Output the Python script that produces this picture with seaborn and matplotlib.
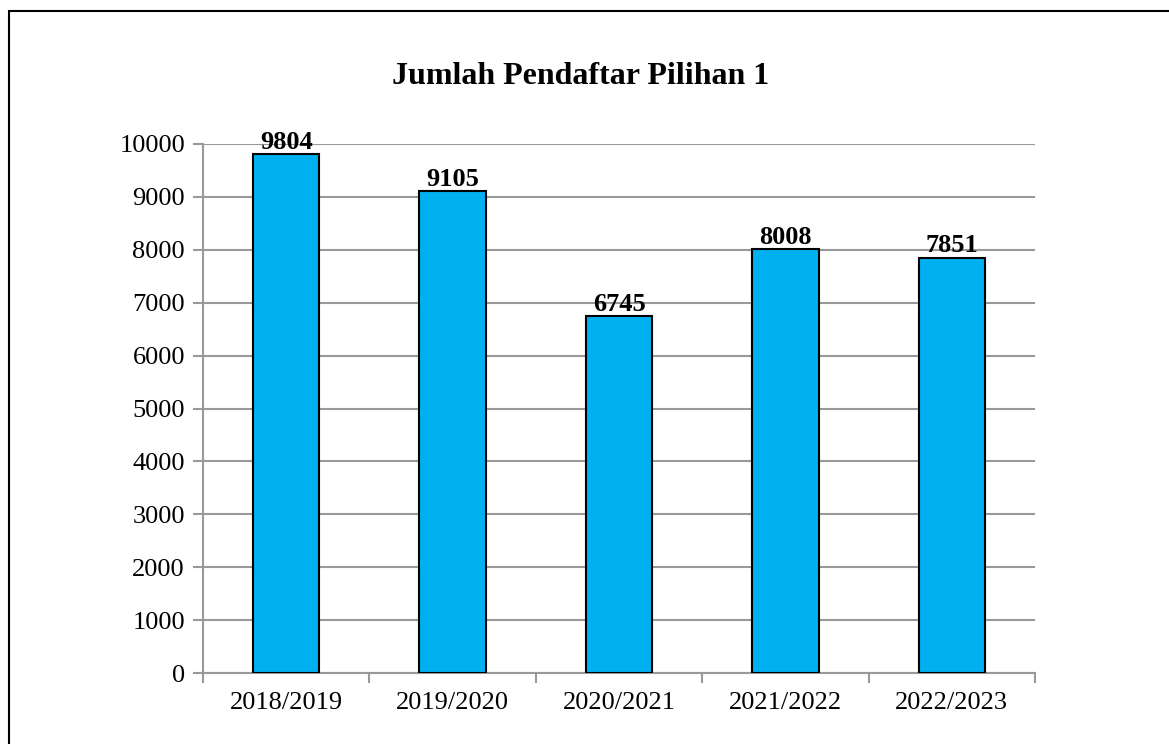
import matplotlib
matplotlib.use("Agg")
import matplotlib.pyplot as plt
import seaborn as sns
import pandas as pd
from matplotlib.patches import Rectangle

categories = ["2018/2019", "2019/2020", "2020/2021", "2021/2022", "2022/2023"]
values = [9804, 9105, 6745, 8008, 7851]
yticks = [0, 1000, 2000, 3000, 4000, 5000, 6000, 7000, 8000, 9000, 10000]
title = "Jumlah Pendaftar Pilihan 1"

sns.set_theme(style="white")
plt.rcParams['font.family'] = ['Liberation Serif', 'DejaVu Serif']

df = pd.DataFrame({"Tahun": categories, "Jumlah": values})

fig = plt.figure(figsize=(11.69, 7.44), dpi=100)
ax = fig.add_axes([203/1169, 1-673/744, (1035-203)/1169, (673-144)/744])

sns.barplot(data=df, x="Tahun", y="Jumlah", ax=ax, width=0.4,
            color="#00B0F0", saturation=1, edgecolor="black", linewidth=1.5, zorder=3)

grid_c = "#999999"
ax.set_ylim(0, 10000)
ax.set_xlim(-0.5, len(categories) - 0.5)
ax.set_yticks(yticks)
ax.set_yticklabels([str(v) for v in yticks], fontsize=19)
ax.set_xticks(range(len(categories)))
ax.set_xticklabels(categories, fontsize=19)
ax.set_xticks([i - 0.5 for i in range(len(categories) + 1)], minor=True)
ax.tick_params(axis="x", which="both", bottom=True)
ax.tick_params(axis="y", which="both", left=True)
ax.tick_params(axis="x", which="major", length=0, pad=14, labelcolor="black")
ax.tick_params(axis="x", which="minor", length=7, width=1.5, color=grid_c, direction="out")
ax.tick_params(axis="y", which="major", length=7, width=1.5, color=grid_c, direction="out", pad=6, labelcolor="black")
ax.yaxis.grid(True, color=grid_c, linewidth=1.5, zorder=0)
ax.set_axisbelow(True)
for s in ["top", "right"]:
    ax.spines[s].set_visible(False)
for s in ["left", "bottom"]:
    ax.spines[s].set_color(grid_c)
    ax.spines[s].set_linewidth(1.5)
ax.set_xlabel("")
ax.set_ylabel("")

for i, v in enumerate(values):
    ax.text(i, v + 5, str(v), ha="center", va="bottom", fontsize=19,
            fontweight="bold", color="black", zorder=5)

fig.text(0.497, 1-77/744, title, ha="center", va="center", fontsize=23,
         fontweight="bold", color="black")

fig.patches.append(Rectangle((9/1169, -0.1), 1.2, 1.1 - 11/744, transform=fig.transFigure,
                             fill=False, edgecolor="black", linewidth=1.5))

fig.savefig("out.png", dpi=100)
